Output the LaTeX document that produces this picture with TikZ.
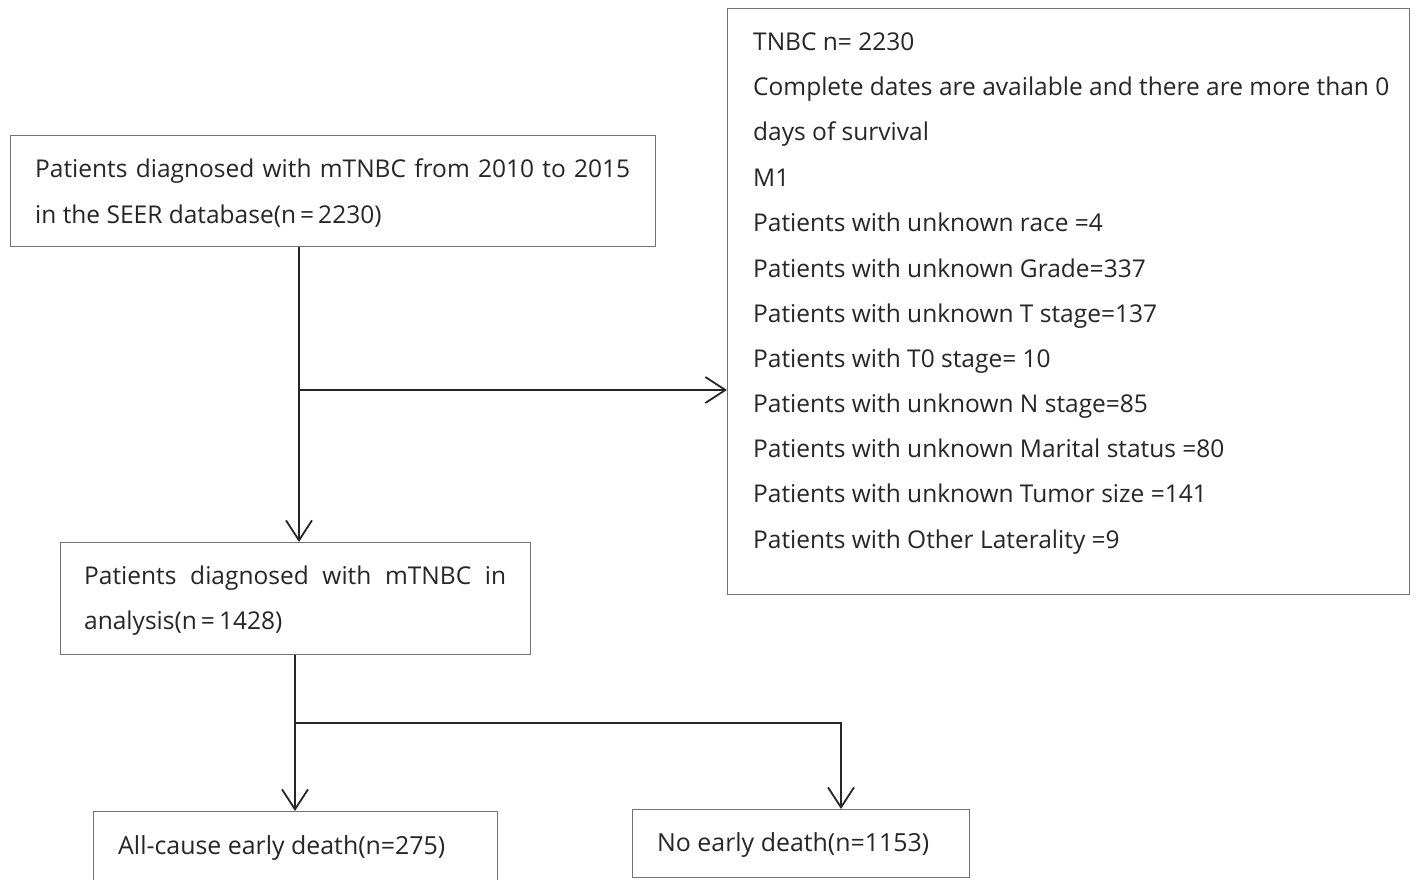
\documentclass[tikz,border=0pt]{standalone}
\usepackage{fontspec}
\setmainfont{Open Sans}
\usetikzlibrary{arrows.meta}
\tikzset{
  x=1pt,y=-1pt,
  box/.style={draw=boxgray,line width=1.4pt,rectangle,anchor=north west,inner sep=0pt},
  txt/.style={anchor=base west,inner sep=0pt,font=\fontsize{24.5}{29}\selectfont,text=black!85},
  txtb/.style={txt,font=\fontsize{24.9}{29}\selectfont},
  conn/.style={draw=black!85,line width=1.6pt},
  arr/.style={conn,-{Straight Barb[length=20pt,width=26pt,line width=1.8pt]}}
}
\definecolor{boxgray}{gray}{0.45}
\begin{document}
\begin{tikzpicture}
\useasboundingbox (0,0) rectangle (1416,880);
\clip (0,0) rectangle (1416,880);
\fill[white] (0,0) rectangle (1416,880);
% boxes
\node[box,minimum width=645pt,minimum height=111pt] (A) at (10,135) {};
\node[box,minimum width=682pt,minimum height=586pt] (R) at (727,8) {};
\node[box,minimum width=470pt,minimum height=112pt] (B) at (60,542) {};
\node[box,minimum width=404pt,minimum height=100pt] (C) at (93,811) {};
\node[box,minimum width=337pt,minimum height=68pt] (D) at (632,809) {};
% texts
\node[txt] (a1) at (35,178) {\makebox[595pt][s]{Patients diagnosed with mTNBC from 2010 to 2015}};
\node[txt] (a2) at (35,223) {in the SEER database(n\,=\,2230)};
\node[txt] (r1) at (753,51) {TNBC n= 2230};
\node[txt] (r2) at (753,96) {Complete dates are available and there are more than 0};
\node[txt] (r3) at (753,141) {days of survival};
\node[txt] (r4) at (753,186) {M1};
\node[txt] (r5) at (753,231) {Patients with unknown race =4};
\node[txt] (r6) at (753,277) {Patients with unknown Grade=337};
\node[txt] (r7) at (753,322) {Patients with unknown T stage=137};
\node[txt] (r8) at (753,367) {Patients with T0 stage= 10};
\node[txt] (r9) at (753,412) {Patients with unknown N stage=85};
\node[txt] (r10) at (753,457) {Patients with unknown Marital status =80};
\node[txt] (r11) at (753,502) {Patients with unknown Tumor size =141};
\node[txt] (r12) at (753,548) {Patients with Other Laterality =9};
\node[txt] (b1) at (84,584) {\makebox[422pt][s]{Patients diagnosed with mTNBC in}};
\node[txt] (b2) at (84,629) {analysis(n\,=\,1428)};
\node[txtb] (c1) at (118,854) {All-cause early death(n=275)};
\node[txtb] (d1) at (657,851) {No early death(n=1153)};
% connectors
\coordinate (s1) at (299,390);
\coordinate (s2) at (295,723);
\draw[arr,line width=2.4pt] (A.south -| s1) -- (B.north -| s1);
\draw[arr] (s1) -- (s1 -| R.west);
\draw[arr] (B.south -| s2) -- (C.north -| s2);
\draw[arr] (s2) -- (841,723) -- (D.north -| 841,0);
\end{tikzpicture}
\end{document}
